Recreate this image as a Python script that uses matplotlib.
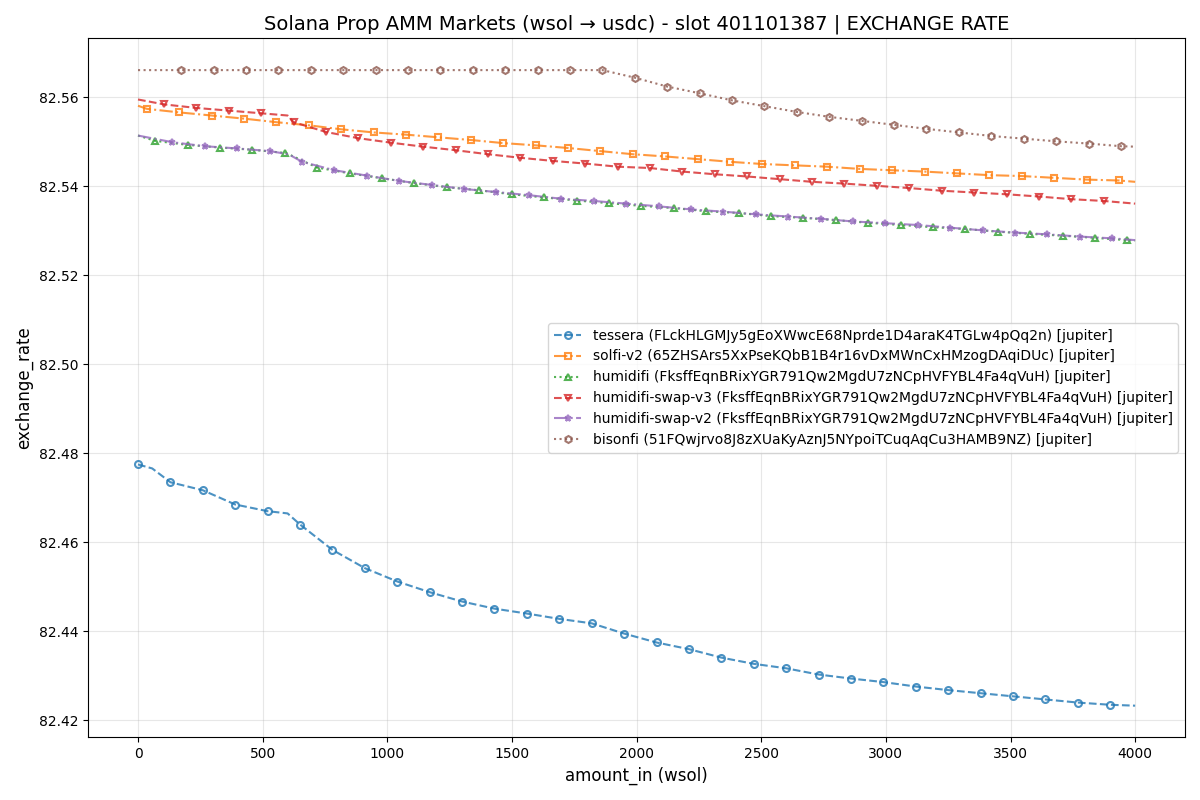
import matplotlib
matplotlib.use("Agg")
import matplotlib.pyplot as plt
import numpy as np

# marker sample spacing (wsol) and per-series marker start
PERIOD = 130

# tessera: markers from 0, plus line-only points
tessera_rate = [82.4775, 82.4735, 82.4717, 82.4685, 82.4670, 82.4640, 82.4583,
                82.4542, 82.4512, 82.4488, 82.4467, 82.4451, 82.4440, 82.4428,
                82.4418, 82.4395, 82.4375, 82.4360, 82.4341, 82.4327, 82.4317,
                82.4303, 82.4294, 82.4286, 82.4276, 82.4268, 82.4261, 82.4254,
                82.4247, 82.4240, 82.4235]
tessera_extra = [(57, 82.4766), (600, 82.4665), (4000, 82.4233)]

solfi_rate = [82.5574, 82.5566, 82.5559, 82.5552, 82.5544, 82.5537, 82.5528,
              82.5521, 82.5516, 82.5510, 82.5504, 82.5497, 82.5492, 82.5486,
              82.5479, 82.5472, 82.5467, 82.5461, 82.5455, 82.5450, 82.5447,
              82.5444, 82.5439, 82.5436, 82.5433, 82.5429, 82.5425, 82.5423,
              82.5419, 82.5415, 82.5413]
solfi_extra = [(0, 82.5581), (4000, 82.5410)]

humidifi_rate = [82.5502, 82.5493, 82.5487, 82.5482, 82.5475, 82.5442, 82.5429,
                 82.5418, 82.5407, 82.5398, 82.5391, 82.5382, 82.5375, 82.5368,
                 82.5362, 82.5356, 82.5351, 82.5344, 82.5340, 82.5333, 82.5329,
                 82.5324, 82.5318, 82.5313, 82.5308, 82.5304, 82.5298, 82.5293,
                 82.5289, 82.5284, 82.5279]
humidifi_extra = [(0, 82.5514), (604, 82.5472), (4000, 82.5278)]

swap_v3_rate = [82.5584, 82.5576, 82.5570, 82.5564, 82.5544, 82.5522, 82.5508,
                82.5498, 82.5489, 82.5481, 82.5472, 82.5464, 82.5457, 82.5451,
                82.5444, 82.5441, 82.5433, 82.5427, 82.5422, 82.5416, 82.5410,
                82.5406, 82.5401, 82.5396, 82.5390, 82.5386, 82.5382, 82.5377,
                82.5371, 82.5367]
swap_v3_extra = [(0, 82.5595), (600, 82.5559), (4000, 82.5361)]

swap_v2_rate = [82.5499, 82.5490, 82.5485, 82.5479, 82.5455, 82.5436, 82.5424,
                82.5412, 82.5403, 82.5394, 82.5387, 82.5380, 82.5372, 82.5367,
                82.5361, 82.5355, 82.5348, 82.5343, 82.5337, 82.5332, 82.5327,
                82.5321, 82.5317, 82.5313, 82.5307, 82.5301, 82.5296, 82.5292,
                82.5287, 82.5283]
swap_v2_extra = [(0, 82.5514), (604, 82.5472), (4000, 82.5279)]

bisonfi_rate = [82.5661] * 14 + [82.5644, 82.5624, 82.5609, 82.5593, 82.5580,
                                 82.5567, 82.5556, 82.5547, 82.5538, 82.5529,
                                 82.5521, 82.5513, 82.5507, 82.5501, 82.5496,
                                 82.5490]
bisonfi_extra = [(0, 82.5661), (4000, 82.5489)]

series = [
    ("tessera (FLckHLGMJy5gEoXWwcE68Nprde1D4araK4TGLw4pQq2n) [jupiter]",
     0, tessera_rate, tessera_extra, "--", "o"),
    ("solfi-v2 (65ZHSArs5XxPseKQbB1B4r16vDxMWnCxHMzogDAqiDUc) [jupiter]",
     35, solfi_rate, solfi_extra, "-.", "s"),
    ("humidifi (FksffEqnBRixYGR791Qw2MgdU7zNCpHVFYBL4Fa4qVuH) [jupiter]",
     69, humidifi_rate, humidifi_extra, ":", "^"),
    ("humidifi-swap-v3 (FksffEqnBRixYGR791Qw2MgdU7zNCpHVFYBL4Fa4qVuH) [jupiter]",
     104, swap_v3_rate, swap_v3_extra, "--", "v"),
    ("humidifi-swap-v2 (FksffEqnBRixYGR791Qw2MgdU7zNCpHVFYBL4Fa4qVuH) [jupiter]",
     138, swap_v2_rate, swap_v2_extra, "-.", "*"),
    ("bisonfi (51FQwjrvo8J8zXUaKyAznJ5NYpoiTCuqAqCu3HAMB9NZ) [jupiter]",
     173, bisonfi_rate, bisonfi_extra, ":", "h"),
]

colors = plt.rcParams['axes.prop_cycle'].by_key()['color']

fig, ax = plt.subplots(figsize=(12, 8), dpi=100)

for i, (label, start, rate, extra, ls, mk) in enumerate(series):
    mx = start + PERIOD * np.arange(len(rate))
    x = np.concatenate([mx, [p[0] for p in extra]])
    y = np.concatenate([rate, [p[1] for p in extra]])
    is_marker = np.concatenate([np.ones(len(rate), bool), np.zeros(len(extra), bool)])
    order = np.argsort(x, kind='stable')
    ax.plot(x[order], y[order], linestyle=ls, marker=mk, markevery=list(is_marker[order]),
            color=colors[i], alpha=0.8, linewidth=1.5, markersize=5,
            markerfacecolor='none', markeredgewidth=1.5, label=label)

ax.set_title("Solana Prop AMM Markets (wsol \u2192 usdc) - slot 401101387 | EXCHANGE RATE", fontsize=14)
ax.set_xlabel("amount_in (wsol)", fontsize=12)
ax.set_ylabel("exchange_rate", fontsize=12)
ax.grid(True, alpha=0.3)
ax.legend(loc='center right')

fig.tight_layout()
fig.savefig("out.png")
